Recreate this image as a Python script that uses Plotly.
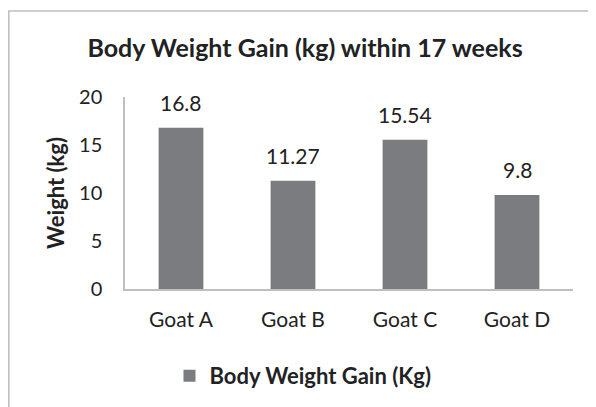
import plotly.graph_objects as go

categories = ["Goat A", "Goat B", "Goat C", "Goat D"]
values = [16.8, 11.27, 15.54, 9.8]
value_labels = ["16.8", "11.27", "15.54", "9.8"]
series_name = "Body Weight Gain (Kg)"
title_text = "Body Weight Gain (kg) within 17 weeks"
y_title = "Weight (kg)"
y_ticks = [0, 5, 10, 15, 20]

FONT = "Lato, 'Open Sans', sans-serif"
TXT = "#222222"

W, H = 596, 407
L, R, T, B = 117, 31, 89, 126
pw, ph = W - L - R, H - T - B

def px_to_paper_x(px):
    return (px - L) / pw

def px_to_paper_y(py):
    return (H - B - py) / ph

fig = go.Figure()
fig.add_trace(go.Bar(
    x=categories, y=values, name=series_name,
    marker=dict(color="#7b7c80", line=dict(width=0)),
    width=0.4,
))

annotations = [
    dict(x=c, y=v, text=t, xref="x", yref="y", showarrow=False,
         yanchor="bottom", yshift=11,
         font=dict(family=FONT, size=21, color=TXT))
    for c, v, t in zip(categories, values, value_labels)
]

fig.update_layout(
    width=W, height=H,
    margin=dict(l=L, r=R, t=T, b=B, pad=0),
    paper_bgcolor="white", plot_bgcolor="white",
    font=dict(family=FONT, color=TXT, size=20),
    title=dict(text=title_text, x=297 / W, xanchor="center",
               y=1 - 40 / H, yanchor="middle", xref="container", yref="container",
               font=dict(family=FONT, size=25, color=TXT, weight="bold")),
    showlegend=True,
    legend=dict(orientation="h", x=px_to_paper_x(295), xanchor="center",
                y=px_to_paper_y(368), yanchor="middle",
                font=dict(family=FONT, size=22, color=TXT, weight="bold")),
    xaxis=dict(showline=True, linecolor="#bfbfbf", linewidth=1.5, ticks="",
               tickfont=dict(family=FONT, size=21, color=TXT), showgrid=False,
               ticklabelstandoff=11),
    yaxis=dict(range=[0, 20], tickvals=y_ticks, showline=True, linecolor="#bfbfbf",
               linewidth=1.5, showgrid=False, zeroline=False, ticks="",
               tickfont=dict(family=FONT, size=20, color=TXT), ticklabelstandoff=17,
               title=dict(text=y_title, standoff=8,
                          font=dict(family=FONT, size=22, color=TXT, weight="bold"))),
    annotations=annotations,
    shapes=[dict(type="rect", xref="paper", yref="paper",
                 x0=px_to_paper_x(0.8), x1=px_to_paper_x(650),
                 y0=px_to_paper_y(450), y1=px_to_paper_y(3),
                 line=dict(color="#bdbdbd", width=1.5), fillcolor="rgba(0,0,0,0)",
                 layer="below")],
)

fig.write_html("out.html")
